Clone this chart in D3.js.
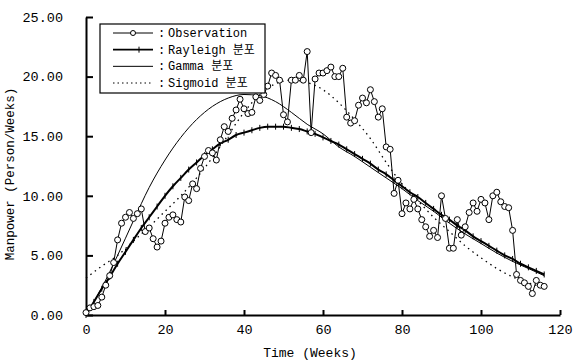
<!DOCTYPE html>
<html><head><meta charset="utf-8">
<script src="https://cdn.jsdelivr.net/npm/d3@7/dist/d3.min.js"></script>
<style>
body{margin:0;background:#fff;}
text{font-family:"Liberation Mono","Noto Sans CJK KR",monospace;fill:#000;}
</style>
</head><body><div id="dataviz-container"></div>
<script>
// observed manpower, one value per week (week 0 .. 116)
var observation = [0.2,0.6,0.7,0.8,1.5,2.5,3.3,4.4,6.3,7.7,
  8.2,8.6,8.1,8.5,8.9,7.0,7.3,6.4,5.7,6.2,
  7.7,8.2,8.4,8.0,7.8,9.9,9.6,11.0,10.6,12.3,
  13.3,13.8,13.6,13.0,14.7,15.8,15.4,16.5,17.2,18.1,
  17.3,16.9,17.0,18.3,18.0,18.5,19.2,20.3,20.1,19.7,
  16.8,16.2,19.7,19.7,20.1,19.7,22.1,15.3,19.8,20.3,
  20.3,20.5,20.8,20.0,20.0,20.7,16.6,16.1,16.3,17.6,
  18.2,17.8,18.9,17.9,16.6,17.3,14.1,13.9,10.2,11.3,
  8.5,9.4,8.9,9.7,8.9,8.0,7.4,6.6,7.1,6.5,
  10.0,8.1,5.6,5.6,8.0,6.7,7.4,8.6,9.4,8.7,
  9.7,9.4,8.0,10.0,10.3,9.5,9.1,9.0,7.1,3.4,
  2.9,2.7,2.4,1.8,2.9,2.5,2.4];

// fitted curves
var rayleighWeeks = d3.range(0, 117, 2);
var rayleigh = [0,1.1,2.2,3.2,4.3,5.3,6.3,7.3,8.2,9.1,
  10.0,10.8,11.5,12.2,12.8,13.4,13.9,14.4,14.7,15.1,
  15.3,15.5,15.7,15.8,15.8,15.8,15.7,15.6,15.4,15.2,
  14.9,14.6,14.3,13.9,13.5,13.1,12.7,12.2,11.8,11.3,
  10.8,10.3,9.9,9.4,8.9,8.4,8.0,7.5,7.1,6.6,
  6.2,5.8,5.4,5.0,4.7,4.3,4.0,3.7,3.4];

var curveWeeks = d3.range(0, 117, 4);
var gamma = [0,2.3,5.0,7.9,10.7,13.0,14.9,16.4,17.5,18.2,
  18.5,18.4,17.9,17.0,16.0,15.2,14.1,13.3,12.4,11.5,
  10.6,9.6,8.7,7.7,6.8,6.0,5.2,4.5,3.9,3.3];
var sigmoid = [3.1,4.1,5.0,6.2,7.4,8.7,10.0,11.5,13.2,15.1,
  17.0,18.5,19.4,19.7,19.5,18.9,17.8,16.4,14.8,12.8,
  11.0,9.6,8.2,7.0,5.8,4.8,3.9,3.2,2.7,2.3];

var xTicks = [0,20,40,60,80,100,120];
var yTicks = [0,5,10,15,20,25];
var legendLabels = ["Observation","Rayleigh 분포","Gamma 분포","Sigmoid 분포"];

var Width = 575, Height = 362;
var svg = d3.select('#dataviz-container').append('svg')
  .attr('width', Width).attr('height', Height);

var x = d3.scaleLinear().domain([0,120]).range([86,560]);
var y = d3.scaleLinear().domain([0,25]).range([315,17]);

// axes
var xAxis = svg.append('g').attr('transform', 'translate(0,' + y(0) + ')')
  .call(d3.axisBottom(x).tickValues(xTicks).tickSize(-5).tickSizeOuter(0).tickPadding(9));
var yAxis = svg.append('g').attr('transform', 'translate(' + x(0) + ',0)')
  .call(d3.axisLeft(y).tickValues(yTicks).tickFormat(d3.format('.2f')).tickSize(-7).tickSizeOuter(0).tickPadding(23));
[xAxis, yAxis].forEach(function(a){
  a.select('.domain').attr('stroke', '#000').attr('stroke-width', 2);
  a.selectAll('.tick line').attr('stroke', '#000').attr('stroke-width', 2);
  a.selectAll('text').attr('font-size', 13.5).attr('font-family', null);
});

svg.append('text')
  .attr('x', 310).attr('y', 357)
  .attr('text-anchor', 'middle').attr('font-size', 13)
  .text('Time (Weeks)');
svg.append('text')
  .attr('transform', 'translate(14,174) rotate(-90)')
  .attr('text-anchor', 'middle').attr('font-size', 12.5)
  .text('Manpower (Person/Weeks)');

// curves
var line = d3.line().curve(d3.curveMonotoneX);

svg.append('path')
  .datum(curveWeeks.map(function(w, i){ return [x(w), y(sigmoid[i])]; }))
  .attr('d', line).attr('fill', 'none').attr('stroke', '#000')
  .attr('stroke-width', 1.3).attr('stroke-dasharray', '1.5,4');

svg.append('path')
  .datum(curveWeeks.map(function(w, i){ return [x(w), y(gamma[i])]; }))
  .attr('d', line).attr('fill', 'none').attr('stroke', '#000').attr('stroke-width', 1);

svg.append('path')
  .datum(rayleighWeeks.map(function(w, i){ return [x(w), y(rayleigh[i])]; }))
  .attr('d', line).attr('fill', 'none').attr('stroke', '#000').attr('stroke-width', 2);
svg.selectAll('.ray-tick')
  .data(rayleighWeeks)
  .enter().append('line')
  .attr('class', 'ray-tick')
  .attr('x1', function(d){ return x(d); }).attr('x2', function(d){ return x(d); })
  .attr('y1', function(d, i){ return y(rayleigh[i]) - 3; })
  .attr('y2', function(d, i){ return y(rayleigh[i]) + 3; })
  .attr('stroke', '#000').attr('stroke-width', 1);

// observations
svg.append('path')
  .datum(observation.map(function(v, i){ return [x(i), y(v)]; }))
  .attr('d', d3.line()).attr('fill', 'none').attr('stroke', '#000').attr('stroke-width', 1);
svg.selectAll('.obs')
  .data(observation)
  .enter().append('circle')
  .attr('class', 'obs')
  .attr('cx', function(d, i){ return x(i); })
  .attr('cy', function(d){ return y(d); })
  .attr('r', 3)
  .attr('fill', '#fff').attr('stroke', '#000').attr('stroke-width', 1);

// legend
var legend = svg.append('g');
legend.append('rect')
  .attr('x', 100).attr('y', 24).attr('width', 165).attr('height', 69)
  .attr('fill', '#fff').attr('stroke', '#000').attr('stroke-width', 1.2);
var rowY = d3.scalePoint().domain(legendLabels).range([33, 83]);
legendLabels.forEach(function(lbl, i){
  var yy = rowY(lbl);
  var seg = legend.append('line')
    .attr('x1', 113).attr('x2', 153).attr('y1', yy).attr('y2', yy)
    .attr('stroke', '#000').attr('stroke-width', i == 1 ? 1.6 : 1);
  if (i == 3) seg.attr('stroke-dasharray', '1.5,3');
  if (i == 0) {
    legend.append('circle').attr('cx', 133).attr('cy', yy).attr('r', 2.5)
      .attr('fill', '#fff').attr('stroke', '#000');
  }
  if (i == 1) {
    legend.append('line').attr('x1', 139).attr('x2', 139).attr('y1', yy - 3).attr('y2', yy + 3)
      .attr('stroke', '#000');
  }
  legend.append('text').attr('x', 158).attr('y', yy + 4).attr('font-size', 12).text(':');
  legend.append('text').attr('x', 168).attr('y', yy + 4).attr('font-size', 12).text(lbl);
});
</script>
</body></html>
